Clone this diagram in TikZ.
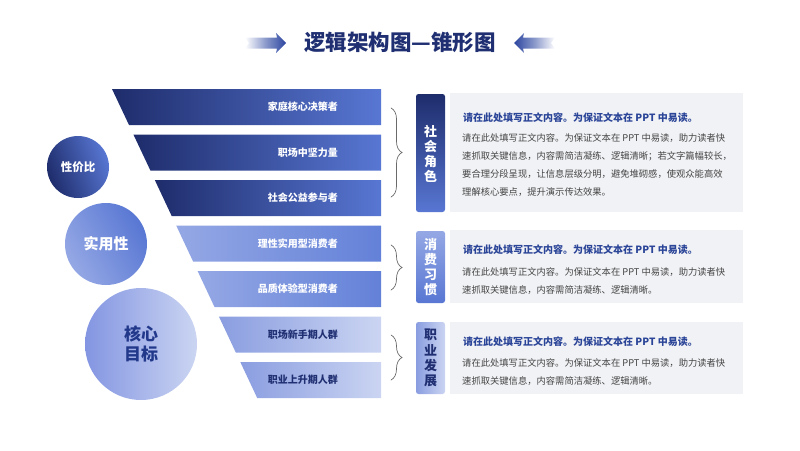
\documentclass[tikz,border=0pt]{standalone}
\usepackage{fontspec}
\setmainfont{Noto Sans CJK SC}
\usetikzlibrary{decorations.pathreplacing}
\definecolor{navy}{HTML}{1E2C6B}
\definecolor{navyT}{HTML}{1F2F72}
\definecolor{arrowblue}{HTML}{2C46A0}
\definecolor{blueM}{HTML}{5877D3}
\definecolor{lightA}{HTML}{95A8E5}
\definecolor{blueB}{HTML}{6381D8}
\definecolor{lightB}{HTML}{8A9DE0}
\definecolor{paleB}{HTML}{CBD5F2}
\definecolor{panelbg}{HTML}{F1F2F5}
\definecolor{titleblue}{HTML}{2B4598}
\definecolor{bodygray}{HTML}{454545}
\definecolor{circtext}{HTML}{22388A}
\definecolor{bracegray}{HTML}{6A6A6A}
\tikzset{
  bandA/.style={left color=navy, right color=blueM},
  bandB/.style={left color=lightA, right color=blueB},
  bandC/.style={left color=lightB, right color=paleB},
  bandtext/.style={anchor=east, inner sep=0pt, text=white, font=\bfseries\fontsize{10}{11}\selectfont},
  bandtextC/.style={bandtext, text=navyT},
  vbox/.style={rounded corners=2.5pt},
  vtext/.style={inner sep=0pt, align=center, font=\bfseries\fontsize{13}{15.2}\selectfont},
  panel/.style={fill=panelbg},
  ptitle/.style={anchor=west, inner sep=0pt, text=titleblue, font=\bfseries\fontsize{10}{12}\selectfont},
  pbody/.style={anchor=north west, inner sep=0pt, align=left, text=bodygray, font=\fontsize{9.3}{18}\selectfont},
  bracestyle/.style={draw=bracegray, line width=0.7pt, line cap=round, decorate, decoration={brace, amplitude=11pt}},
}
\begin{document}
\begin{tikzpicture}[x=1pt,y=-1pt]
\useasboundingbox (0,0) rectangle (800,450);

% header
\node[inner sep=0pt, text=navyT, font=\bfseries\fontsize{21.5}{24}\selectfont] (title) at (400,42) {逻辑架构图—锥形图};
\path[left color=white, right color=arrowblue, middle color=arrowblue!55] (245,37.5) -- (277,37.5) -- (276,33) -- (286,43) -- (276,53) -- (277,48.5) -- (245,48.5) -- (249,43) -- cycle;
\path[right color=white, left color=arrowblue, middle color=arrowblue!55] (555,37.5) -- (523,37.5) -- (524,33) -- (514,43) -- (524,53) -- (523,48.5) -- (555,48.5) -- (551,43) -- cycle;

% circles
\path[left color=navy, right color=blueM, shading angle=110] (78,167) circle (31);
\node[inner sep=0pt, text=white, font=\bfseries\fontsize{11.5}{13}\selectfont] (c1) at (78,167) {性价比};
\path[left color=lightA, right color=blueM, shading angle=120] (106,244) circle (41);
\node[inner sep=0pt, text=white, font=\bfseries\fontsize{15}{17}\selectfont] (c2) at (106,244) {实用性};
\path[left color=lightB!95!blue, right color=paleB] (141,344) circle (56);
\node[inner sep=0pt, align=center, text=circtext, font=\bfseries\fontsize{17}{20}\selectfont] (c3) at (141,344) {核心\\目标};

% bands
\path[bandA] (112,89) -- (381,89) -- (381,125) -- (129,125) -- cycle;
\node[bandtext] (b1) at (338,107) {家庭核心决策者};
\path[bandA] (133.4,134.5) -- (381,134.5) -- (381,170.5) -- (150.4,170.5) -- cycle;
\node[bandtext] (b2) at (338,152.5) {职场中坚力量};
\path[bandA] (154.8,180) -- (381,180) -- (381,216) -- (171.7,216) -- cycle;
\node[bandtext] (b3) at (338,198) {社会公益参与者};
\path[bandB] (176.2,225.5) -- (381,225.5) -- (381,261.5) -- (193.1,261.5) -- cycle;
\node[bandtext] (b4) at (338,243.5) {理性实用型消费者};
\path[bandB] (197.6,271) -- (381,271) -- (381,307) -- (214.5,307) -- cycle;
\node[bandtext] (b5) at (338,289) {品质体验型消费者};
\path[bandC] (218.9,316.5) -- (381,316.5) -- (381,352.5) -- (235.8,352.5) -- cycle;
\node[bandtextC] (b6) at (338,334.5) {职场新手期人群};
\path[bandC] (240.3,362) -- (381,362) -- (381,398) -- (257.2,398) -- cycle;
\node[bandtextC] (b7) at (338,380) {职业上升期人群};

% braces
\coordinate (br1a) at (391,108); \coordinate (br1b) at (391,197);
\coordinate (br2a) at (391,245); \coordinate (br2b) at (391,290);
\coordinate (br3a) at (391,335); \coordinate (br3b) at (391,380);
\draw[bracestyle] (br1a) -- (br1b);
\draw[bracestyle] (br2a) -- (br2b);
\draw[bracestyle] (br3a) -- (br3b);

% vertical label boxes
\path[vbox, top color=navy, bottom color=blueM] (416,94) rectangle (445,212);
\node[vtext, text=white] (v1) at (430.5,154) {社\\会\\角\\色};
\path[vbox, top color=lightA, bottom color=blueM] (416,231) rectangle (445,303);
\node[vtext, text=white] (v2) at (430.5,267) {消\\费\\习\\惯};
\path[vbox, left color=lightB, right color=paleB] (416,322) rectangle (445,394);
\node[vtext, text=navyT] (v3) at (430.5,358) {职\\业\\发\\展};

% panels
\path[panel] (450,93) rectangle (743,212);
\node[ptitle] (t1) at (463,118) {请在此处填写正文内容。为保证文本在 PPT 中易读。};
\node[pbody] (d1) at (462,133.3) {请在此处填写正文内容。为保证文本在 PPT 中易读，助力读者快\\速抓取关键信息，内容需简洁凝练、逻辑清晰；若文字篇幅较长，\\要合理分段呈现，让信息层级分明，避免堆砌感，使观众能高效\\理解核心要点，提升演示传达效果。};

\path[panel] (450,230) rectangle (743,303);
\node[ptitle] (t2) at (463,250) {请在此处填写正文内容。为保证文本在 PPT 中易读。};
\node[pbody] (d2) at (462,267.3) {请在此处填写正文内容。为保证文本在 PPT 中易读，助力读者快\\速抓取关键信息，内容需简洁凝练、逻辑清晰。};

\path[panel] (450,322) rectangle (743,394);
\node[ptitle] (t3) at (463,342) {请在此处填写正文内容。为保证文本在 PPT 中易读。};
\node[pbody] (d3) at (462,358.3) {请在此处填写正文内容。为保证文本在 PPT 中易读，助力读者快\\速抓取关键信息，内容需简洁凝练、逻辑清晰。};
\end{tikzpicture}
\end{document}
